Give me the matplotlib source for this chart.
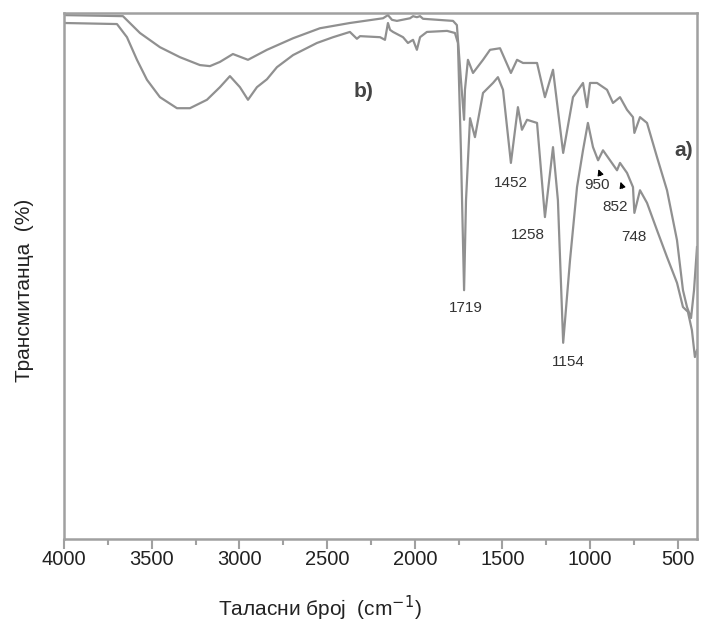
import matplotlib
matplotlib.use("Agg")
import matplotlib.pyplot as plt

plt.rcParams['font.family'] = ['Liberation Sans', 'DejaVu Sans']

# spectrum b) - weaker bands (upper trace)
wn_b = [4000, 3664, 3567, 3453, 3339, 3225, 3168, 3111, 3037, 2951, 2843, 2694, 2541, 2370,
        2181, 2153, 2130, 2102, 2027, 2010, 1988, 1970, 1953, 1782, 1760, 1754, 1737, 1719,
        1714, 1697, 1668, 1611, 1571, 1514, 1452, 1417, 1383, 1303, 1258, 1212, 1154, 1098,
        1041, 1018, 1001, 961, 904, 870, 830, 790, 756, 748, 716, 676, 619, 562, 505, 471,
        448, 425, 408, 391]
t_b = [99.6, 99.4, 96.2, 93.5, 91.6, 90.1, 89.9, 90.7, 92.2, 91.1, 93.0, 95.2, 97.1, 98.1,
       99.0, 99.6, 98.7, 98.5, 99.0, 99.4, 99.2, 99.4, 98.9, 98.5, 97.7, 94.9, 87.3, 79.7,
       85.4, 91.1, 88.6, 91.1, 93.0, 93.3, 88.6, 91.1, 90.5, 90.5, 84.0, 89.2, 73.4, 84.0,
       86.7, 82.1, 86.7, 86.7, 85.4, 82.9, 84.0, 81.6, 80.2, 77.2, 80.2, 79.1, 72.6, 66.3,
       56.8, 47.3, 44.1, 42.0, 47.3, 55.5]

# spectrum a) - stronger bands (lower trace)
wn_a = [4000, 3698, 3641, 3584, 3527, 3453, 3356, 3282, 3185, 3111, 3054, 2997, 2951, 2900,
        2843, 2786, 2694, 2558, 2466, 2370, 2330, 2312, 2198, 2170, 2153, 2141, 2124, 2067,
        2039, 2010, 1988, 1970, 1931, 1816, 1771, 1754, 1737, 1719, 1708, 1685, 1657, 1611,
        1554, 1526, 1497, 1452, 1412, 1389, 1360, 1303, 1258, 1212, 1184, 1154, 1115, 1075,
        1041, 1013, 984, 955, 927, 887, 847, 830, 790, 756, 748, 716, 676, 619, 562, 505,
        471, 443, 420, 403, 391]
t_a = [98.1, 97.9, 95.4, 91.1, 87.3, 84.0, 81.9, 81.9, 83.5, 85.9, 88.0, 85.9, 83.5, 85.9,
       87.4, 89.7, 92.0, 94.3, 95.4, 96.4, 95.1, 95.6, 95.4, 94.9, 98.1, 96.8, 96.4, 95.4,
       94.3, 94.9, 93.0, 95.4, 96.4, 96.6, 96.2, 94.3, 73.9, 47.3, 64.4, 80.0, 76.4, 84.8,
       86.7, 87.8, 85.4, 71.5, 82.1, 77.8, 79.7, 79.1, 61.2, 74.5, 64.4, 37.3, 53.0, 66.9,
       73.9, 79.1, 74.5, 72.0, 73.9, 72.0, 70.1, 71.5, 69.6, 66.9, 62.0, 66.3, 63.9, 58.7,
       53.6, 48.7, 44.1, 43.2, 39.7, 34.6, 35.9]

# band labels: text, x, y
peak_labels = ["1719", "1452", "1258", "1154", "950", "852", "748"]
peak_x = [1708, 1452, 1355, 1127, 961, 859, 750]
peak_y = [43.9, 67.7, 57.8, 33.6, 67.3, 63.1, 57.4]

line_col = "#909090"
axis_col = "#a0a0a0"

fig = plt.figure(figsize=(7.01, 6.23), dpi=100)
ax = fig.add_axes([64/701, 84/623, 633/701, 526/623])

ax.plot(wn_b, t_b, color=line_col, lw=1.6, solid_joinstyle="round")
ax.plot(wn_a, t_a, color=line_col, lw=1.6, solid_joinstyle="round")

for lab, x, y in zip(peak_labels, peak_x, peak_y):
    ax.text(x, y, lab, fontsize=11, color="#333333", ha="center", va="center")

# small arrows to the shoulders at 950 and 852
ax.annotate("", xy=(958, 70.8), xytext=(935, 68.6),
            arrowprops=dict(arrowstyle="-|>", color="black", lw=0.8, mutation_scale=9))
ax.annotate("", xy=(832, 68.4), xytext=(810, 66.2),
            arrowprops=dict(arrowstyle="-|>", color="black", lw=0.8, mutation_scale=9))

ax.text(465, 73.9, "a)", fontsize=15, fontweight="bold", color="#444444", ha="center", va="center")
ax.text(2295, 85.0, "b)", fontsize=15, fontweight="bold", color="#444444", ha="center", va="center")

ax.set_xlim(4000, 391)
ax.set_ylim(0, 100)
ax.set_xticks([4000, 3500, 3000, 2500, 2000, 1500, 1000, 500])
ax.set_xticks([3750, 3250, 2750, 2250, 1750, 1250, 750], minor=True)
ax.set_yticks([])
ax.tick_params(axis="x", which="major", direction="out", length=7, width=1.5,
               color=axis_col, labelsize=14.5, labelcolor="#222222", pad=1)
ax.tick_params(axis="x", which="minor", direction="out", length=4, width=1.5, color=axis_col)
for s in ax.spines.values():
    s.set_color(axis_col)
    s.set_linewidth(1.8)

ax.set_xlabel("Таласни број  (cm$^{-1}$)", fontsize=15, color="#222222")
ax.xaxis.set_label_coords(0.404, -0.105)
ax.set_ylabel("Трансмитанца  (%)", fontsize=15, color="#222222")
ax.yaxis.set_label_coords(-0.047, 0.473)

plt.savefig("out.png", dpi=100)
